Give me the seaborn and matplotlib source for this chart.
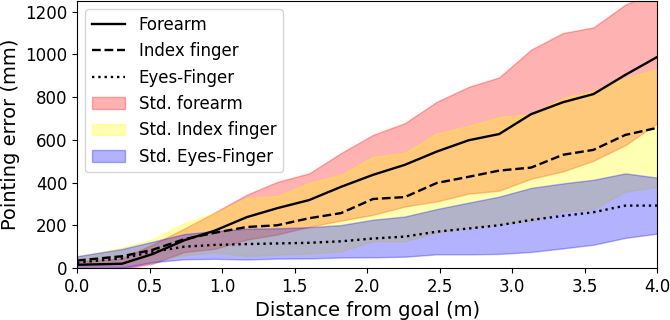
import matplotlib
matplotlib.use("Agg")
import matplotlib.pyplot as plt
import seaborn as sns
import numpy as np

distance = [0.0, 0.31, 0.52, 0.74, 0.95, 1.17, 1.38, 1.6, 1.82, 2.04,
            2.26, 2.48, 2.7, 2.91, 3.13, 3.35, 3.56, 3.78, 4.0]

forearm_mean = [15, 20, 65, 130, 175, 238, 280, 318, 380, 436,
                483, 545, 598, 627, 720, 776, 814, 904, 988]
forearm_std = [15, 25, 45, 55, 85, 105, 123, 125, 158, 187,
               195, 233, 250, 265, 302, 324, 312, 329, 310]

index_mean = [35, 55, 85, 135, 165, 192, 200, 233, 257, 323,
              332, 398, 427, 456, 470, 530, 553, 623, 656]
index_std = [20, 40, 50, 75, 92, 136, 137, 165, 179, 197,
             207, 232, 238, 250, 250, 265, 277, 266, 276]

eyes_mean = [25, 45, 75, 100, 108, 112, 115, 118, 125, 138,
             147, 170, 185, 200, 225, 244, 261, 292, 292]
eyes_std = [30, 44, 48, 59, 65, 72, 71, 73, 76, 88,
            94, 106, 121, 134, 150, 152, 152, 151, 131]

x = np.array(distance)

fig, ax = plt.subplots(figsize=(6.7, 3.2), dpi=100)
fig.subplots_adjust(left=0.115, right=0.981, bottom=0.1625, top=0.997)

sns.lineplot(x=x, y=forearm_mean, color="black", linestyle="-", linewidth=1.7, label="Forearm", ax=ax)
sns.lineplot(x=x, y=index_mean, color="black", linestyle="--", linewidth=1.7, label="Index finger", ax=ax)
sns.lineplot(x=x, y=eyes_mean, color="black", linestyle=":", linewidth=1.7, label="Eyes-Finger", ax=ax)

# std bands
for mean, std, col, lab in [(forearm_mean, forearm_std, "red", "Std. forearm"),
                            (index_mean, index_std, "yellow", "Std. Index finger"),
                            (eyes_mean, eyes_std, "blue", "Std. Eyes-Finger")]:
    m = np.array(mean)
    s = np.array(std)
    ax.fill_between(x, m - s, m + s, color=col, alpha=0.3, label=lab)

ax.set_xlim(0, 4.0)
ax.set_ylim(0, 1250)
ax.set_yticks([0, 200, 400, 600, 800, 1000, 1200])
ax.set_xlabel("Distance from goal (m)", fontsize=14)
ax.set_ylabel("Pointing error (mm)", fontsize=14)
ax.tick_params(labelsize=12)
ax.legend(loc="upper left", fontsize=12)

plt.savefig("out.png")
